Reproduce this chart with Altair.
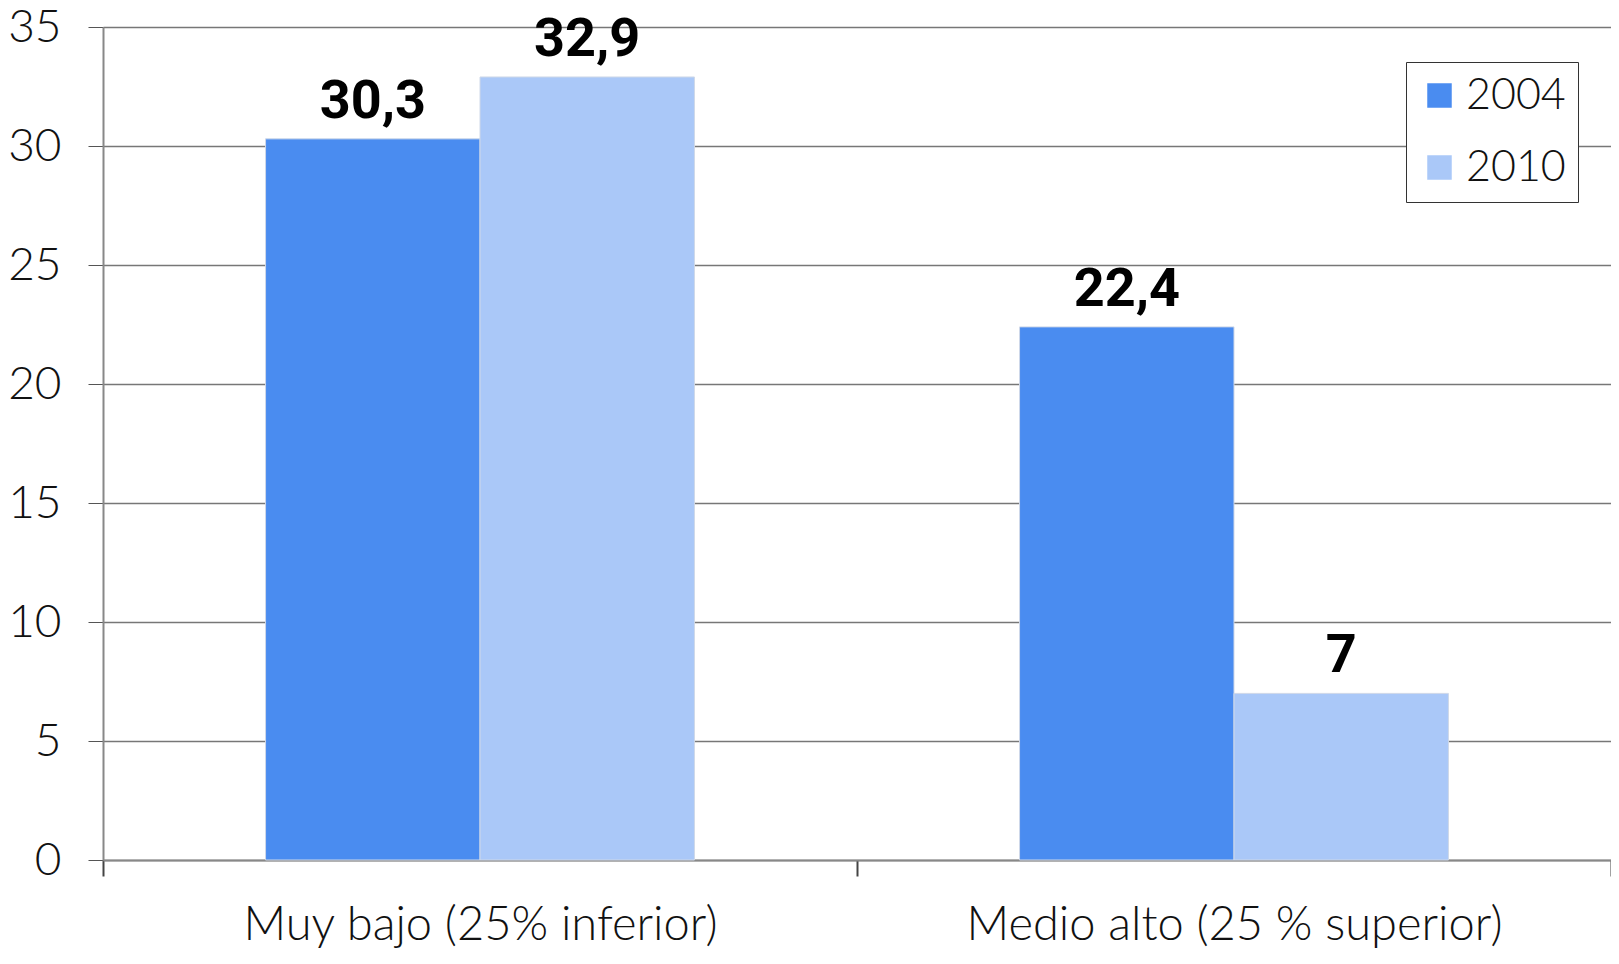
import altair as alt
import pandas as pd

categories = ["Muy bajo (25% inferior)", "Medio alto (25 % superior)"]
years = ["2004", "2010"]
values_2004 = [30.3, 22.4]
values_2010 = [32.9, 7.0]
labels_2004 = ["30,3", "22,4"]
labels_2010 = ["32,9", "7"]

rows = []
for i, c in enumerate(categories):
    rows.append({"cat": c, "year": "2004", "value": values_2004[i], "label": labels_2004[i]})
    rows.append({"cat": c, "year": "2010", "value": values_2010[i], "label": labels_2010[i]})
df = pd.DataFrame(rows)

FONT = "Lato"

x = alt.X("cat:N", sort=categories, title=None,
          scale=alt.Scale(paddingInner=0, paddingOuter=0),
          axis=alt.Axis(labelAngle=0, tickBand="extent", labelFontSize=47, labelFont=FONT,
                        labelFontWeight=300, labelLimit=0,
                        labelColor="#111", labelPadding=26, tickSize=16, tickColor="#444",
                        domainColor="#888", domainWidth=2, tickWidth=2, grid=False,
                        labelBound=False, labelOverlap=False))
xo = alt.XOffset("year:N", sort=years,
                 scale=alt.Scale(paddingInner=0, paddingOuter=0.758))
y = alt.Y("value:Q", title=None,
          scale=alt.Scale(domain=[0, 35], nice=False),
          axis=alt.Axis(values=[0, 5, 10, 15, 20, 25, 30, 35], labelFontSize=46,
                        labelFont=FONT, labelFontWeight=300, labelColor="#111", tickSize=15,
                        tickColor="#555", labelPadding=27, gridColor="#777",
                        gridWidth=1.5, domainColor="#888", domainWidth=2))

color = alt.Color("year:N", sort=years, title=None,
                  scale=alt.Scale(domain=years, range=["#4A8CF0", "#AAC8F8"]),
                  legend=alt.Legend(orient="none", legendX=1303, legendY=35,
                                    strokeColor="#333", fillColor="white", padding=12,
                                    symbolType="square", symbolSize=600, symbolStrokeWidth=0,
                                    labelFontSize=43, labelFont=FONT, labelFontWeight=300,
                                    labelColor="#111", rowPadding=28, labelOffset=5))

bars = alt.Chart(df).mark_bar(stroke="#cfd8e8", strokeWidth=1).encode(
    x=x, xOffset=xo, y=y, color=color)

text = alt.Chart(df).mark_text(baseline="bottom", dy=-10, fontSize=54, fontWeight="bold",
                               font="Roboto", color="black").encode(
    x=alt.X("cat:N", sort=categories, scale=alt.Scale(paddingInner=0, paddingOuter=0)),
    xOffset=xo, y="value:Q", text="label:N")

chart = alt.layer(bars, text).properties(
    width=1508, height=833,
    autosize=alt.AutoSizeParams(type="none"),
    padding={"left": 95, "top": 19, "right": 0, "bottom": 96},
).configure_view(stroke=None)

chart.save("out.html", embed_options={"renderer": "svg", "actions": False})
